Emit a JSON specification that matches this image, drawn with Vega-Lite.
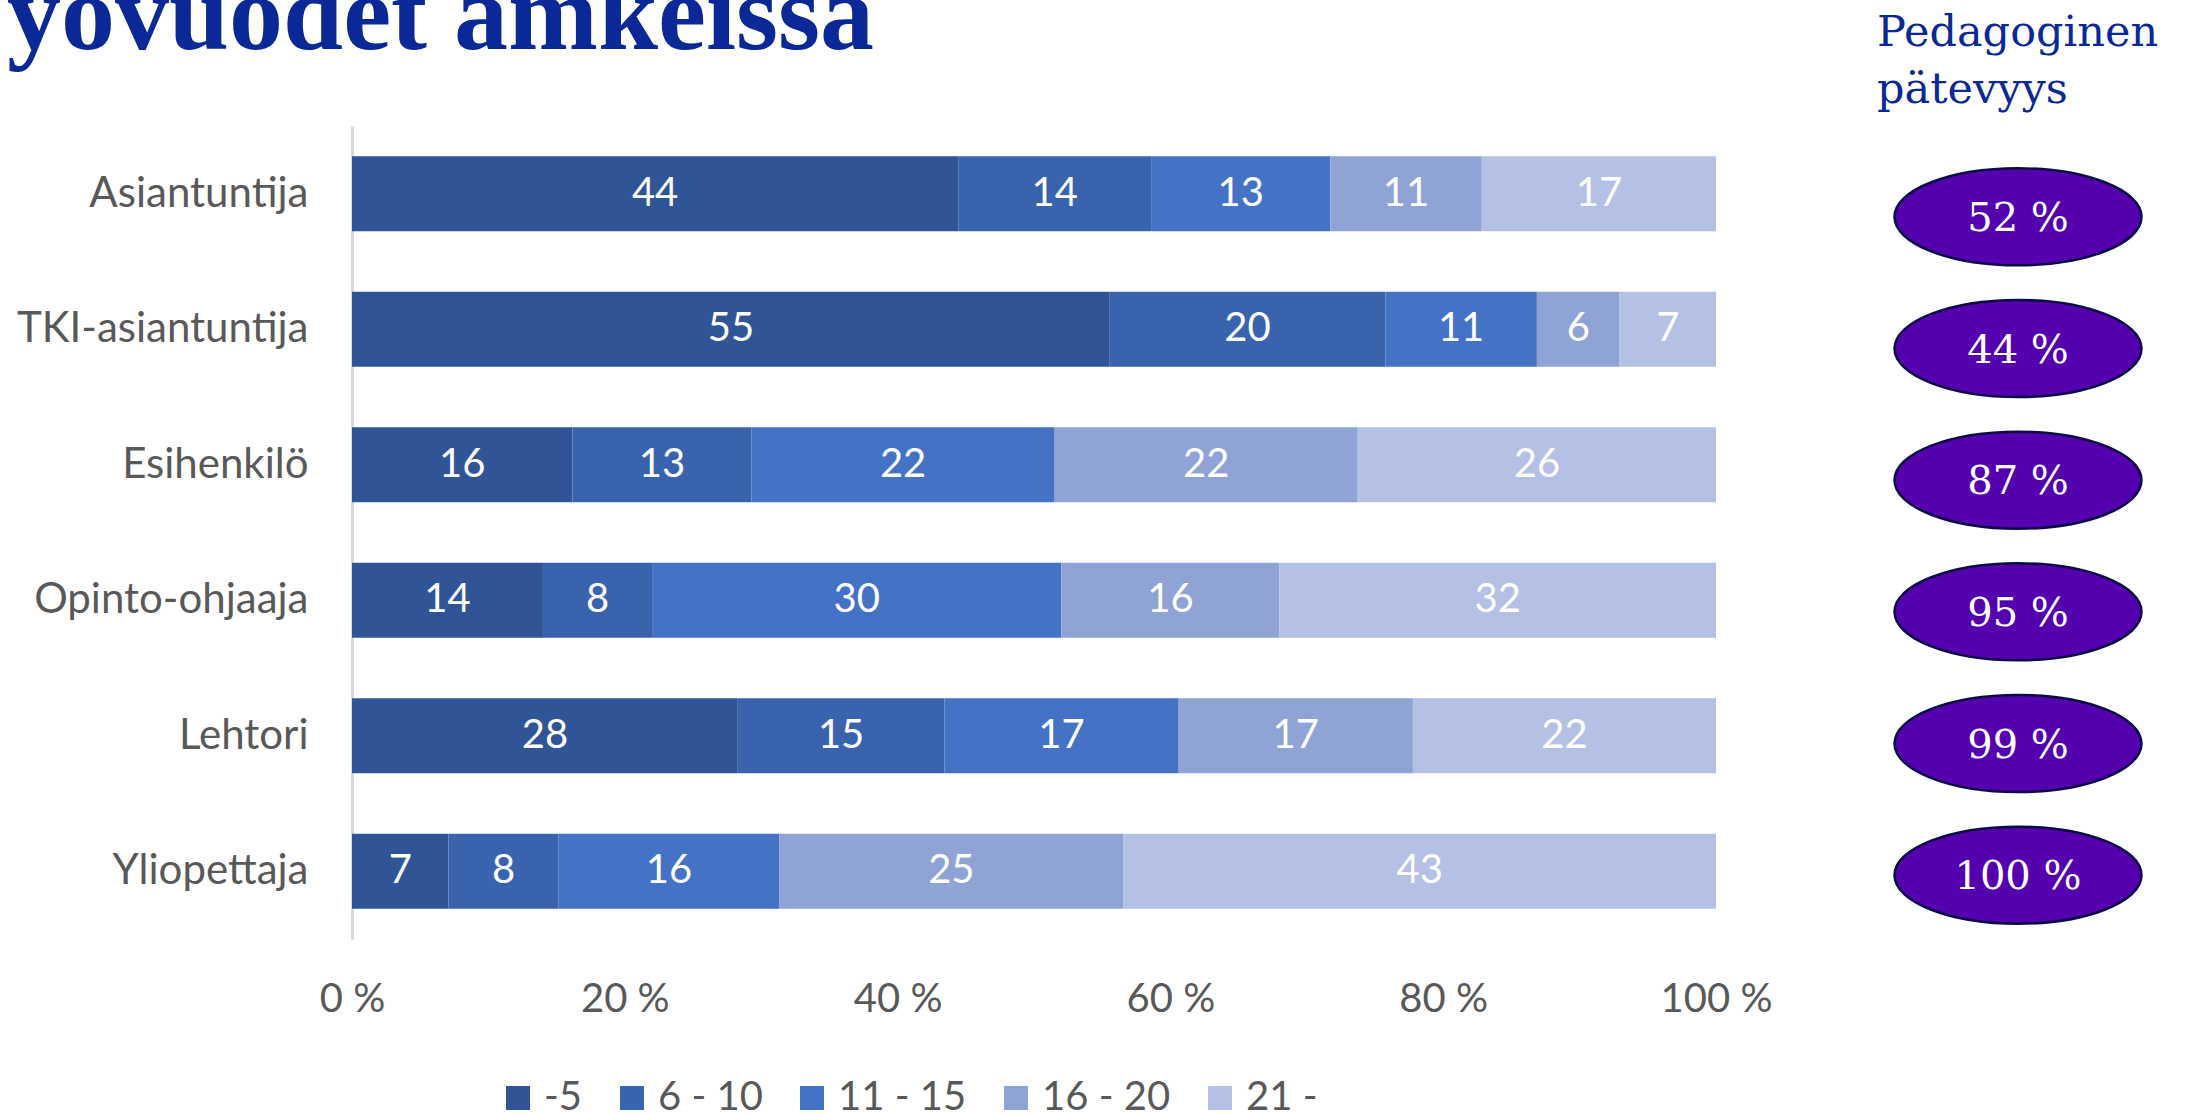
{
  "$schema": "https://vega.github.io/schema/vega-lite/v6.json",
  "padding": {"left": 0, "top": -37, "right": 0, "bottom": 0},
  "background": "white",
  "datasets": {
    "bars": [
      {"role": "Asiantuntija", "grp": "-5", "k": 1, "v": 44},
      {"role": "Asiantuntija", "grp": "6 - 10", "k": 2, "v": 14},
      {"role": "Asiantuntija", "grp": "11 - 15", "k": 3, "v": 13},
      {"role": "Asiantuntija", "grp": "16 - 20", "k": 4, "v": 11},
      {"role": "Asiantuntija", "grp": "21 -", "k": 5, "v": 17},
      {"role": "TKI-asiantuntija", "grp": "-5", "k": 1, "v": 55},
      {"role": "TKI-asiantuntija", "grp": "6 - 10", "k": 2, "v": 20},
      {"role": "TKI-asiantuntija", "grp": "11 - 15", "k": 3, "v": 11},
      {"role": "TKI-asiantuntija", "grp": "16 - 20", "k": 4, "v": 6},
      {"role": "TKI-asiantuntija", "grp": "21 -", "k": 5, "v": 7},
      {"role": "Esihenkilö", "grp": "-5", "k": 1, "v": 16},
      {"role": "Esihenkilö", "grp": "6 - 10", "k": 2, "v": 13},
      {"role": "Esihenkilö", "grp": "11 - 15", "k": 3, "v": 22},
      {"role": "Esihenkilö", "grp": "16 - 20", "k": 4, "v": 22},
      {"role": "Esihenkilö", "grp": "21 -", "k": 5, "v": 26},
      {"role": "Opinto-ohjaaja", "grp": "-5", "k": 1, "v": 14},
      {"role": "Opinto-ohjaaja", "grp": "6 - 10", "k": 2, "v": 8},
      {"role": "Opinto-ohjaaja", "grp": "11 - 15", "k": 3, "v": 30},
      {"role": "Opinto-ohjaaja", "grp": "16 - 20", "k": 4, "v": 16},
      {"role": "Opinto-ohjaaja", "grp": "21 -", "k": 5, "v": 32},
      {"role": "Lehtori", "grp": "-5", "k": 1, "v": 28},
      {"role": "Lehtori", "grp": "6 - 10", "k": 2, "v": 15},
      {"role": "Lehtori", "grp": "11 - 15", "k": 3, "v": 17},
      {"role": "Lehtori", "grp": "16 - 20", "k": 4, "v": 17},
      {"role": "Lehtori", "grp": "21 -", "k": 5, "v": 22},
      {"role": "Yliopettaja", "grp": "-5", "k": 1, "v": 7},
      {"role": "Yliopettaja", "grp": "6 - 10", "k": 2, "v": 8},
      {"role": "Yliopettaja", "grp": "11 - 15", "k": 3, "v": 16},
      {"role": "Yliopettaja", "grp": "16 - 20", "k": 4, "v": 25},
      {"role": "Yliopettaja", "grp": "21 -", "k": 5, "v": 43}
    ],
    "ped": [
      {"role": "Asiantuntija", "p": "52 %"},
      {"role": "TKI-asiantuntija", "p": "44 %"},
      {"role": "Esihenkilö", "p": "87 %"},
      {"role": "Opinto-ohjaaja", "p": "95 %"},
      {"role": "Lehtori", "p": "99 %"},
      {"role": "Yliopettaja", "p": "100 %"}
    ]
  },
  "spacing": 177,
  "bounds": "flush",
  "hconcat": [
    {
      "width": 1364,
      "height": 813,
      "data": {"name": "bars"},
      "title": {
        "text": "yövuodet amkeissa",
        "anchor": "start",
        "frame": "group",
        "dx": -345,
        "baseline": "alphabetic",
        "offset": -31,
        "font": "Liberation Serif",
        "fontSize": 108,
        "fontWeight": "bold",
        "color": "#0A2896"
      },
      "encoding": {
        "y": {
          "field": "role",
          "type": "nominal",
          "sort": ["Asiantuntija", "TKI-asiantuntija", "Esihenkilö", "Opinto-ohjaaja", "Lehtori", "Yliopettaja"],
          "scale": {"paddingInner": 0.447, "paddingOuter": 0.2235},
          "axis": {
            "title": null,
            "ticks": false,
            "domain": true,
            "domainColor": "#D9D9D9",
            "domainWidth": 3,
            "labelPadding": 44,
            "minExtent": 352,
            "maxExtent": 352,
            "labelFont": "Lato",
            "labelFontSize": 42,
            "labelColor": "#595959",
            "labelLimit": 400
          }
        }
      },
      "layer": [
        {
          "mark": {"type": "bar"},
          "encoding": {
            "x": {
              "field": "v",
              "type": "quantitative",
              "stack": "normalize",
              "scale": {"domain": [0, 1], "nice": false},
              "axis": {
                "title": null,
                "values": [0, 0.2, 0.4, 0.6, 0.8, 1],
                "labelExpr": "round(datum.value * 100) + ' %'",
                "domain": false,
                "ticks": false,
                "grid": false,
                "labelFlush": false,
                "labelPadding": 40,
                "labelFont": "Lato",
                "labelFontSize": 40,
                "labelColor": "#595959"
              }
            },
            "color": {
              "field": "grp",
              "type": "nominal",
              "scale": {
                "domain": ["-5", "6 - 10", "11 - 15", "16 - 20", "21 -"],
                "range": ["#2F5597", "#3A63AD", "#4472C4", "#8FA3D5", "#B4C0E4"]
              },
              "legend": {
                "title": null,
                "orient": "none",
                "direction": "horizontal",
                "legendX": 146,
                "legendY": 952,
                "symbolType": "square",
                "symbolSize": 576,
                "symbolStrokeWidth": 0,
                "symbolOpacity": 1,
                "labelFont": "Lato",
                "labelFontSize": 40,
                "labelColor": "#595959",
                "labelOffset": 6,
                "columnPadding": 29
              }
            },
            "order": {"field": "k", "type": "quantitative"}
          }
        },
        {
          "mark": {"type": "text", "color": "white", "font": "Lato", "fontSize": 40, "baseline": "middle", "align": "center"},
          "encoding": {
            "x": {"field": "v", "type": "quantitative", "stack": "normalize", "bandPosition": 0.5},
            "detail": {"field": "grp", "type": "nominal"},
            "order": {"field": "k", "type": "quantitative"},
            "text": {"field": "v", "type": "quantitative"}
          }
        }
      ]
    },
    {
      "width": 250,
      "height": 790,
      "data": {"name": "ped"},
      "title": {
        "text": ["Pedagoginen", "pätevyys"],
        "anchor": "start",
        "frame": "group",
        "dx": -16,
        "baseline": "bottom",
        "offset": -29,
        "lineHeight": 57,
        "font": "DejaVu Serif",
        "fontSize": 43,
        "fontWeight": "normal",
        "color": "#0A2896"
      },
      "encoding": {
        "y": {
          "field": "role",
          "type": "nominal",
          "sort": ["Asiantuntija", "TKI-asiantuntija", "Esihenkilö", "Opinto-ohjaaja", "Lehtori", "Yliopettaja"],
          "axis": null
        }
      },
      "layer": [
        {
          "mark": {
            "type": "point",
            "shape": "M-1,0C-1,-0.217,-0.5523,-0.393,0,-0.393C0.5523,-0.393,1,-0.217,1,0C1,0.217,0.5523,0.393,0,0.393C-0.5523,0.393,-1,0.217,-1,0Z",
            "size": 61009,
            "filled": true,
            "fill": "#5500AF",
            "stroke": "#0B0B45",
            "strokeWidth": 2.5,
            "opacity": 1,
            "yOffset": 25
          },
          "encoding": {}
        },
        {
          "mark": {"type": "text", "color": "white", "font": "DejaVu Serif", "fontSize": 40, "baseline": "middle", "align": "center", "yOffset": 27},
          "encoding": {"text": {"field": "p", "type": "nominal"}}
        }
      ]
    }
  ],
  "config": {"view": {"stroke": null}}
}
